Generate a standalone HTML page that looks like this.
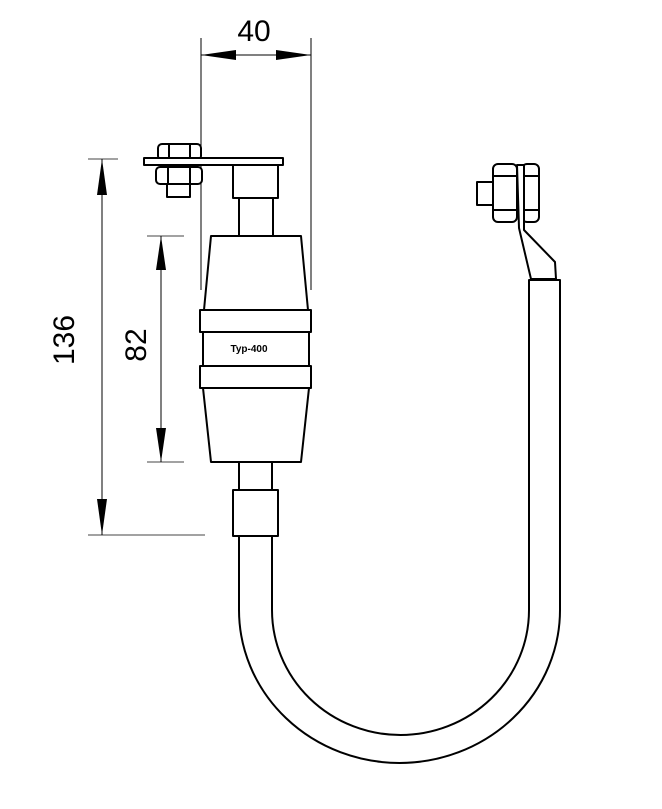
<!DOCTYPE html>
<html><head><style>body{margin:0;background:#fff}svg{display:block}</style></head>
<body>
<svg width="662" height="809" viewBox="0 0 662 809" xmlns="http://www.w3.org/2000/svg" font-family="Liberation Sans, sans-serif">
<g stroke="#000" fill="none" stroke-width="1">
<line x1="201" y1="38" x2="201" y2="290"/>
<line x1="311" y1="38" x2="311" y2="290"/>
<line x1="201" y1="55" x2="311" y2="55"/>
<line x1="88" y1="159" x2="118" y2="159" stroke="#444"/>
<line x1="88" y1="535" x2="205" y2="535" stroke="#444"/>
<line x1="102" y1="159" x2="102" y2="535"/>
<line x1="147" y1="236" x2="184" y2="236" stroke="#444"/>
<line x1="147" y1="462" x2="184" y2="462" stroke="#444"/>
<line x1="161" y1="236" x2="161" y2="462"/>
</g>
<g fill="#000">
<polygon points="201,55 236,50 236,60"/>
<polygon points="311,55 276,50 276,60"/>
<polygon points="102,159 97,195 107,195"/>
<polygon points="102,535 97,499 107,499"/>
<polygon points="161,236 156,270 166,270"/>
<polygon points="161,462 156,428 166,428"/>
</g>
<text x="254" y="41" font-size="30" text-anchor="middle">40</text>
<text transform="translate(74,340) rotate(-90)" font-size="30" text-anchor="middle">136</text>
<text transform="translate(146,345) rotate(-90)" font-size="30" text-anchor="middle">82</text>

<g stroke="#000" fill="#fff" stroke-width="2" stroke-linejoin="round">
<rect x="158" y="144" width="43" height="16" rx="4"/>
<line x1="169" y1="144" x2="169" y2="158"/><line x1="190" y1="144" x2="190" y2="158"/>
<rect x="144" y="158" width="139" height="7"/>
<rect x="156" y="167" width="46" height="17" rx="4"/>
<line x1="168" y1="167" x2="168" y2="184"/><line x1="190" y1="167" x2="190" y2="184"/>
<rect x="167" y="184" width="23" height="13"/>
<rect x="233" y="165" width="45" height="33"/>
<rect x="239" y="198" width="34" height="38"/>
<polygon points="211,236 301,236 308,310 204,310"/>
<rect x="200" y="310" width="111" height="22"/>
<rect x="203" y="332" width="106" height="34"/>
<rect x="200" y="366" width="111" height="22"/>
<polygon points="203,388 309,388 301,462 211,462"/>
<rect x="239" y="462" width="33" height="28"/>
<path d="M239,536 L239,610 A160.5,153 0 0 0 560,610 L560,280 L529,280 L529,610 A128.5,125 0 0 1 272,610 L272,536 Z"/>
<rect x="233" y="490" width="45" height="46"/>
<rect x="477" y="182" width="16" height="23"/>
<rect x="493" y="164" width="24" height="58" rx="5"/>
<rect x="522" y="164" width="17" height="58" rx="5"/>
<line x1="493" y1="176" x2="517" y2="176"/><line x1="493" y1="210" x2="517" y2="210"/>
<line x1="522" y1="176" x2="539" y2="176"/><line x1="522" y1="210" x2="539" y2="210"/>
<path d="M517,165 L524,165 L524,230 L555,262 L556,279 L531,279 L519,228 Z"/>
</g>
<text x="249" y="352" font-size="10" font-weight="bold" text-anchor="middle">Typ-400</text>
</svg>
</body></html>
